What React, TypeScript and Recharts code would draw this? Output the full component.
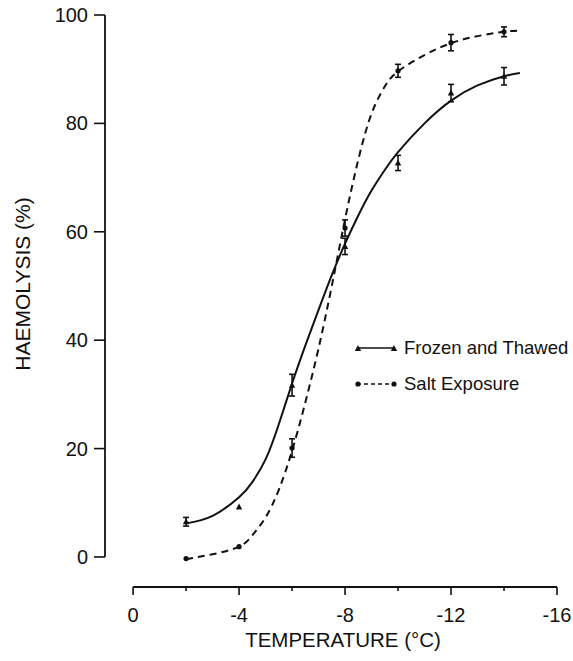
import {
  ComposedChart,
  ErrorBar,
  Legend,
  Line,
  ReferenceLine,
  Scatter,
  XAxis,
  YAxis,
} from 'recharts';

const FONT = '"Liberation Sans", Arial, Helvetica, sans-serif';
const INK = '#111';

// measured points: temperature (°C), haemolysis (%), ± error
const temps = [-2, -4, -6, -8, -10, -12, -14];
const frozenMeans = [6.5, 9.2, 31.7, 57.3, 72.7, 85.6, 88.7];
const frozenErrors = [0.8, null, 2, 1.5, 1.4, 1.6, 1.6];
const saltMeans = [-0.3, 1.9, 20.1, 60.7, 89.7, 94.9, 96.9];
const saltErrors = [null, null, 1.7, 1.5, 1.2, 1.5, 0.9];

// fitted curves
const frozenCurveT = [-2, -3, -4, -4.5, -5, -5.5, -6, -6.5, -7, -7.5, -8, -8.5, -9, -9.5, -10, -11, -12, -13, -14, -14.6];
const frozenCurveV = [6.2, 7.6, 11, 13.8, 18, 24.5, 32, 39, 45.6, 52, 57.8, 63, 67.6, 71.4, 74.7, 80, 84.2, 87, 88.7, 89.3];
const saltCurveT = [-2, -3, -4, -4.5, -5, -5.5, -6, -6.5, -7, -7.5, -8, -8.5, -9, -9.5, -10, -11, -12, -13, -14, -14.5];
const saltCurveV = [-0.4, 0.5, 1.9, 4, 7.3, 12.4, 19.6, 28.5, 38.5, 50, 62.3, 73.3, 81.8, 86.8, 89.6, 92.6, 94.8, 96.1, 96.9, 97.1];

const seriesNames = ['Frozen and Thawed', 'Salt Exposure'];

const xTicks = [0, -2, -4, -6, -8, -10, -12, -14, -16];
const yTicks = [0, 20, 40, 60, 80, 100];
// axes sit apart from the plot, so the domains run a little past 0
const xDomain = [-16, 1.06];
const yDomain = [-5.54, 100];

const frozenPoints = temps.map((t, i) => ({ t, v: frozenMeans[i], err: frozenErrors[i] }));
const saltPoints = temps.map((t, i) => ({ t, v: saltMeans[i], err: saltErrors[i] }));
const frozenCurve = frozenCurveT.map((t, i) => ({ t, v: frozenCurveV[i] }));
const saltCurve = saltCurveT.map((t, i) => ({ t, v: saltCurveV[i] }));

function Triangle({ cx, cy }: any) {
  if (cx == null || cy == null) return null;
  return <path d={`M${cx},${cy - 3.5} L${cx + 3.2},${cy + 2.5} L${cx - 3.2},${cy + 2.5} Z`} fill={INK} />;
}

function Dot({ cx, cy }: any) {
  if (cx == null || cy == null) return null;
  return <circle cx={cx} cy={cy} r={2.6} fill={INK} />;
}

function XTick({ x, y, payload }: any) {
  const major = payload.value % 4 === 0;
  return (
    <g>
      <line x1={x} y1={y} x2={x} y2={y + (major ? 8 : 4)} stroke={INK} strokeWidth={1.6} />
      {major && (
        <text x={x} y={y + 35} textAnchor='middle' fill={INK} fontSize={20} fontFamily={FONT}>
          {payload.value}
        </text>
      )}
    </g>
  );
}

function YTick({ x, y, payload }: any) {
  return (
    <g>
      <line x1={x - 11} y1={y} x2={x} y2={y} stroke={INK} strokeWidth={1.6} />
      <text x={x - 17} y={y + 7} textAnchor='end' fill={INK} fontSize={20} fontFamily={FONT}>
        {payload.value}
      </text>
    </g>
  );
}

function LegendBox() {
  return (
    <div style={{ fontFamily: FONT, fontSize: 18.5, color: INK }}>
      {seriesNames.map((name, i) => (
        <div key={name} style={{ display: 'flex', alignItems: 'center', height: 36 }}>
          <svg width={50} height={12} style={{ display: 'block' }}>
            <line x1={3} y1={6} x2={41} y2={6} stroke={INK} strokeWidth={1.6} strokeDasharray={i === 0 ? undefined : '4 3'} />
            {i === 0 ? (
              <>
                <Triangle cx={4} cy={6.5} />
                <Triangle cx={40} cy={6.5} />
              </>
            ) : (
              <>
                <Dot cx={4} cy={6} />
                <Dot cx={40} cy={6} />
              </>
            )}
          </svg>
          <span style={{ lineHeight: 1 }}>{name}</span>
        </div>
      ))}
    </div>
  );
}

export default function App() {
  return (
    <div style={{ position: 'absolute', left: 0, top: 0 }}>
      <ComposedChart
        width={573}
        height={661}
        margin={{ top: 15, right: 16, bottom: 14, left: 0 }}
        style={{ fontFamily: FONT }}
      >
        <XAxis
          dataKey='t'
          type='number'
          domain={xDomain}
          reversed
          allowDataOverflow
          ticks={xTicks}
          interval={0}
          height={60}
          axisLine={false}
          tickLine={false}
          tickSize={0}
          tickMargin={0}
          tick={<XTick />}
          label={{
            content: ({ viewBox }: any) => (
              <text
                x={viewBox.x + viewBox.width / 2 + 12}
                y={viewBox.y + 60}
                textAnchor='middle'
                fill={INK}
                fontSize={20.5}
                fontFamily={FONT}
              >
                TEMPERATURE (°C)
              </text>
            ),
          }}
        />
        <YAxis
          type='number'
          domain={yDomain}
          allowDataOverflow
          ticks={yTicks}
          interval={0}
          width={105}
          axisLine={false}
          tickLine={false}
          tickSize={0}
          tickMargin={0}
          tick={<YTick />}
          label={{
            content: ({ viewBox }: any) => (
              <text
                x={viewBox.x + 22}
                y={284}
                textAnchor='middle'
                dominantBaseline='central'
                transform={`rotate(-90, ${viewBox.x + 22}, 284)`}
                fill={INK}
                fontSize={21}
                fontFamily={FONT}
              >
                HAEMOLYSIS (%)
              </text>
            ),
          }}
        />
        <ReferenceLine
          segment={[{ x: xDomain[1], y: 0 }, { x: xDomain[1], y: 100 }]}
          stroke={INK}
          strokeWidth={1.8}
        />
        <ReferenceLine
          segment={[{ x: 0, y: yDomain[0] }, { x: -16, y: yDomain[0] }]}
          stroke={INK}
          strokeWidth={1.8}
        />
        <Line
          data={frozenCurve}
          dataKey='v'
          type='natural'
          name={seriesNames[0]}
          stroke={INK}
          strokeWidth={2}
          dot={false}
          activeDot={false}
          isAnimationActive={false}
        />
        <Line
          data={saltCurve}
          dataKey='v'
          type='natural'
          name={seriesNames[1]}
          stroke={INK}
          strokeWidth={2}
          strokeDasharray='7 5'
          dot={false}
          activeDot={false}
          isAnimationActive={false}
        />
        <Scatter data={frozenPoints} dataKey='v' shape={<Triangle />} legendType='none' isAnimationActive={false}>
          <ErrorBar dataKey='err' direction='y' width={3} stroke={INK} strokeWidth={1.6} isAnimationActive={false} />
        </Scatter>
        <Scatter data={saltPoints} dataKey='v' shape={<Dot />} legendType='none' isAnimationActive={false}>
          <ErrorBar dataKey='err' direction='y' width={3} stroke={INK} strokeWidth={1.6} isAnimationActive={false} />
        </Scatter>
        <Legend
          layout='vertical'
          align='center'
          verticalAlign='middle'
          content={<LegendBox />}
          wrapperStyle={{ left: 354, top: 330, width: 'auto' }}
        />
      </ComposedChart>
    </div>
  );
}
